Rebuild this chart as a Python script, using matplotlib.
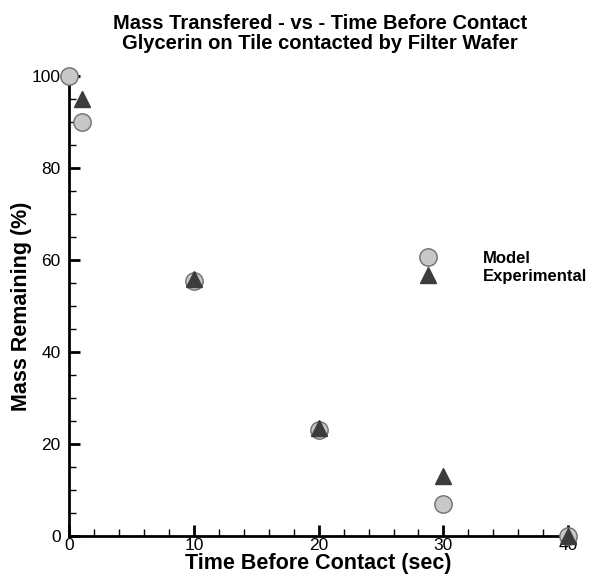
import matplotlib.pyplot as plt
from matplotlib.ticker import MultipleLocator

plt.rcParams['font.family'] = ['Liberation Sans', 'DejaVu Sans']

# Data
model_time = [0, 1, 10, 20, 30, 40]
model_mass = [100, 90, 55.5, 23, 7, 0]
exp_time = [1, 10, 20, 30, 40]
exp_mass = [95, 56, 23.5, 13, 0]

fig = plt.figure(figsize=(5.95, 5.76), dpi=100)
ax = fig.add_axes([0.116, 0.069, 0.839, 0.799])

ax.plot(model_time, model_mass, linestyle="none", marker="o", markersize=12.5,
        markerfacecolor="#c8c8c8", markeredgecolor="#6e6e6e", markeredgewidth=1,
        label="Model", clip_on=False, zorder=3)
ax.plot(exp_time, exp_mass, linestyle="none", marker="^", markersize=11.5,
        markerfacecolor="#3c3c3c", markeredgecolor="#3c3c3c",
        label="Experimental", clip_on=False, zorder=4)

ax.set_xlim(0, 40)
ax.set_ylim(0, 100)
ax.xaxis.set_major_locator(MultipleLocator(10))
ax.xaxis.set_minor_locator(MultipleLocator(2))
ax.yaxis.set_major_locator(MultipleLocator(20))
ax.yaxis.set_minor_locator(MultipleLocator(5))

for side in ["top", "right"]:
    ax.spines[side].set_visible(False)
for side in ["left", "bottom"]:
    ax.spines[side].set_linewidth(2)

ax.tick_params(which="major", direction="in", length=8, width=2, labelsize=12.5)
ax.tick_params(axis="y", which="major", pad=6)
ax.tick_params(axis="x", which="major", pad=1.5)
ax.tick_params(which="minor", direction="in", length=5, width=1)

ax.set_xlabel("Time Before Contact (sec)", fontsize=15.5, fontweight="bold", labelpad=0)
ax.set_ylabel("Mass Remaining (%)", fontsize=15.5, fontweight="bold", labelpad=0)

fig.text(0.538, 0.976, "Mass Transfered - vs - Time Before Contact\nGlycerin on Tile contacted by Filter Wafer",
         ha="center", va="top", fontsize=14.5, fontweight="bold", linespacing=1.1)

leg = ax.legend(loc="upper left", bbox_to_anchor=(0.672, 0.652), frameon=False,
                prop={"weight": "bold", "size": 12}, handletextpad=2.8,
                labelspacing=0.15, handlelength=1.0)

fig.savefig("out.png", dpi=100)
